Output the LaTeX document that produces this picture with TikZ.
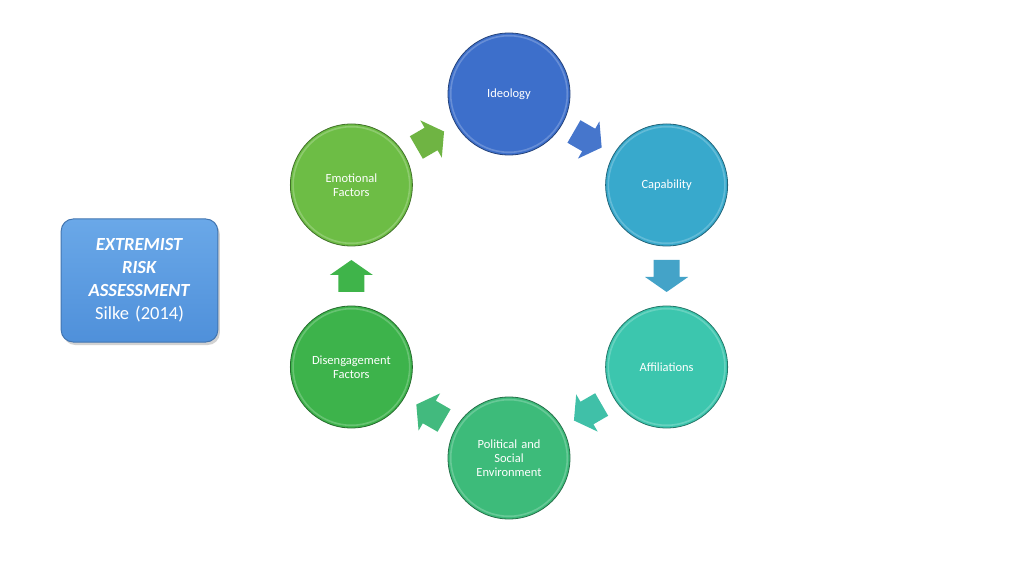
\documentclass[tikz,border=0pt]{standalone}
\usepackage{fontspec}
\setmainfont{Carlito}
\usetikzlibrary{calc,shadows}
\definecolor{cIdeo}{HTML}{3D6FCB}
\definecolor{cCap}{HTML}{38A9CC}
\definecolor{cAff}{HTML}{3CC6AE}
\definecolor{cPol}{HTML}{3DBB7A}
\definecolor{cDis}{HTML}{3DB34B}
\definecolor{cEmo}{HTML}{6DBD45}
\definecolor{aA}{HTML}{4676CC}
\definecolor{aB}{HTML}{44A3C8}
\definecolor{aC}{HTML}{40C0A8}
\definecolor{aD}{HTML}{42BA7E}
\definecolor{aE}{HTML}{3FB44A}
\definecolor{aF}{HTML}{6FB443}
\definecolor{boxTop}{HTML}{6AA8E8}
\definecolor{boxBot}{HTML}{4F90DA}
\definecolor{boxEdge}{HTML}{4275B0}
\begin{document}
\begin{tikzpicture}[x=1pt,y=1pt,
  stage/.style={circle, minimum size=122pt, inner sep=0pt, text width=106pt,
    align=center, text=white, font=\fontsize{12.5}{14}\selectfont,
    fill=#1, draw=#1!60!black, line width=0.8pt,
    path picture={\draw[white, opacity=0.22, line width=1.6pt]
      (path picture bounding box.center) circle (58.3pt);}},
  blockarrow/.pic={\path[pic actions] (-16,-13) -- (1,-13) -- (1,-21.5) -- (16,0)
      -- (1,21.5) -- (1,13) -- (-16,13) -- cycle;},
  riskbox/.style={rectangle, rounded corners=12pt, minimum width=155pt,
    minimum height=123pt, text width=150pt, align=center, text=white,
    font=\fontsize{18.5}{23}\selectfont, top color=boxTop, bottom color=boxBot,
    draw=boxEdge, line width=1pt,
    drop shadow={opacity=0.35, shadow xshift=2pt, shadow yshift=-3pt}}
]
\useasboundingbox (0,0) rectangle (1024,576);
\fill[white] (0,0) rectangle (1024,576);
\coordinate (hub) at (509,300);
\node[stage=cIdeo] (ideo) at ($(hub)+(90:182)$) {Ideology};
\node[stage=cCap] (cap) at ($(hub)+(30:182)$) {Capability};
\node[stage=cAff] (aff) at ($(hub)+(-30:182)$) {Affiliations};
\node[stage=cPol] (pol) at ($(hub)+(-90:182)$) {Political and\\Social\\Environment};
\node[stage=cDis] (dis) at ($(hub)+(210:182)$) {Disengagement\\Factors};
\node[stage=cEmo] (emo) at ($(hub)+(150:182)$) {Emotional\\Factors};
\pic[fill=aA, rotate=-30] at ($(ideo)!0.5!(cap)$) {blockarrow};
\pic[fill=aB, rotate=-90] at ($(cap)!0.5!(aff)$) {blockarrow};
\pic[fill=aC, rotate=-150] at ($(aff)!0.5!(pol)$) {blockarrow};
\pic[fill=aD, rotate=150] at ($(pol)!0.5!(dis)$) {blockarrow};
\pic[fill=aE, rotate=90] at ($(dis)!0.5!(emo)$) {blockarrow};
\pic[fill=aF, rotate=30] at ($(emo)!0.5!(ideo)$) {blockarrow};
\node[riskbox] (risk) at (139.5,295.5)
  {\textbf{\textit{EXTREMIST}}\\\textbf{\textit{RISK}}\\\textbf{\textit{ASSESSMENT}}\\Silke (2014)};
\end{tikzpicture}
\end{document}
